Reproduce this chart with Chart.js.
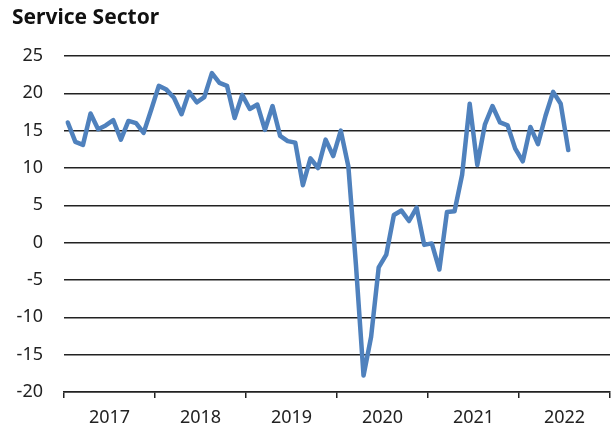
<!DOCTYPE html>
<html>
<head>
<meta charset="utf-8">
<script src="https://cdn.jsdelivr.net/npm/chart.js@4/dist/chart.umd.min.js"></script>
<style>
  html, body { margin: 0; padding: 0; background: #fff; }
  #wrap { width: 611px; height: 435px; }
</style>
</head>
<body>
<div id="wrap"><canvas id="serviceChart" width="611" height="435"></canvas></div>
<script>
// year labels on the x axis (one per 12 months)
const years = ['2017', '2018', '2019', '2020', '2021', '2022'];
// monthly index, Jan 2017 .. Jul 2022
const serviceValues = [
    16.1, 13.5, 13.1, 17.3, 15.2, 15.7, 16.4, 13.8, 16.3, 16.0, 14.7, 17.8,
    21.0, 20.5, 19.4, 17.2, 20.2, 18.8, 19.5, 22.7, 21.4, 21.0, 16.7, 19.8,
    17.9, 18.5, 15.1, 18.3, 14.3, 13.6, 13.4, 7.7, 11.3, 10.0, 13.8, 11.6,
    15.0, 10.2, -3.0, -17.8, -12.6, -3.3, -1.6, 3.7, 4.3, 2.9, 4.7, -0.3,
    -0.1, -3.6, 4.1, 4.2, 9.1, 18.6, 10.4, 15.8, 18.3, 16.1, 15.7, 12.6,
    10.9, 15.5, 13.2, 17.0, 20.2, 18.6, 12.4
];
const yTicks = { min: -20, max: 25, step: 5 };

// each month sits in the middle of its slot
const points = serviceValues.map((v, i) => ({ x: i + 0.5, y: v }));
const tickFont = { family: "'Noto Sans', sans-serif", size: 18 };

const ctx = document.getElementById('serviceChart').getContext('2d');
const chart = new Chart(ctx, {
    type: 'line',
    data: {
        datasets: [{
            label: 'Service Sector',
            data: points,
            borderColor: '#4F81BD',
            borderWidth: 4.5,
            borderJoinStyle: 'round',
            borderCapStyle: 'round',
            pointRadius: 0,
            tension: 0,
        }],
    },
    options: {
        responsive: false,
        animation: false,
        layout: { padding: { left: 12, right: 1, top: 0, bottom: 0 } },
        plugins: {
            legend: { display: false },
            tooltip: { enabled: false },
            title: {
                display: true,
                text: 'Service Sector',
                align: 'start',
                color: '#111',
                font: { family: "'Noto Sans', sans-serif", size: 21, weight: 'bold', lineHeight: 1.2 },
                padding: { top: 5, bottom: 25.8 },
            },
        },
        scales: {
            x: {
                type: 'linear',
                min: 0,
                max: years.length * 12,
                afterFit: (scale) => {
                    scale.height = 43;
                    scale.paddingLeft = 0;
                    scale.paddingRight = 0;
                },
                border: { display: true, color: '#222', width: 1.5 },
                grid: {
                    drawOnChartArea: false,
                    tickLength: 6,
                    lineWidth: 1.5,
                    // only the year boundaries get a tick mark
                    color: (c) => (c.tick && c.tick.value % 12 === 0) ? '#222' : 'rgba(0,0,0,0)',
                },
                ticks: {
                    stepSize: 6,
                    autoSkip: false,
                    maxRotation: 0,
                    padding: 9,
                    color: '#222',
                    font: tickFont,
                    callback: (value) => value % 12 === 6 ? years[(value - 6) / 12] : '',
                },
            },
            y: {
                min: yTicks.min,
                max: yTicks.max,
                afterFit: (scale) => { scale.width = 52; },
                border: { display: false },
                grid: { color: '#222', lineWidth: 1.5, drawTicks: false },
                ticks: { stepSize: yTicks.step, padding: 21, color: '#222', font: tickFont },
            },
        },
    },
});
</script>
</body>
</html>
